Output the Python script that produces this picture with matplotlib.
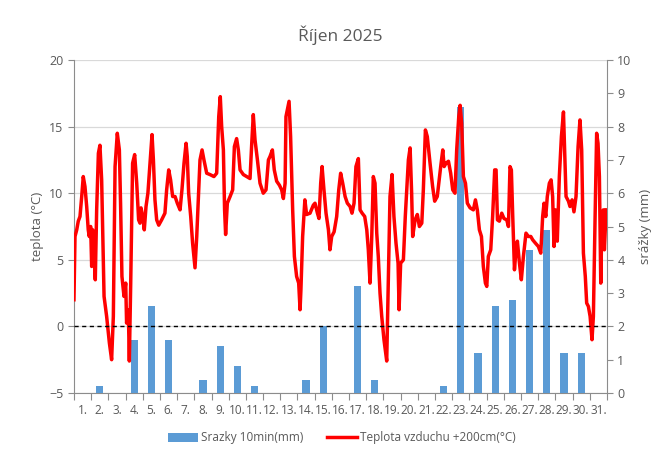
import numpy as np
import matplotlib
matplotlib.use("Agg")
import matplotlib.pyplot as plt

plt.rcParams["font.family"] = ["Open Sans", "DejaVu Sans"]

# denni srazky (mm), den 1..31
dny = [f"{d}." for d in range(1, 32)]
srazky = [0, 0.2, 0, 1.6, 2.6, 1.6, 0, 0.4, 1.4, 0.8,
          0.2, 0, 0, 0.4, 2.0, 0, 3.2, 0.4, 0, 0,
          0, 0.2, 8.6, 1.2, 2.6, 2.8, 4.3, 4.9, 1.2, 1.2, 0]

# teplota: cas ve dnech od zacatku mesice, hodnota (°C)
cas = [0.00, 0.06, 0.16, 0.25, 0.35, 0.45, 0.54, 0.64, 0.74, 0.83,
       0.89, 0.97, 1.03, 1.09, 1.16, 1.24, 1.32, 1.42, 1.51, 1.61,
       1.75, 1.90, 2.06, 2.19, 2.29, 2.39, 2.52, 2.64, 2.71, 2.79,
       2.91, 3.01, 3.06, 3.16, 3.22, 3.30, 3.41, 3.53, 3.65, 3.76,
       3.84, 3.90, 4.00, 4.09, 4.19, 4.30, 4.42, 4.54, 4.62, 4.71,
       4.81, 4.93, 5.10, 5.29, 5.39, 5.51, 5.62, 5.74, 5.88, 6.01,
       6.17, 6.28, 6.40, 6.52, 6.59, 6.67, 6.79, 6.90, 7.04, 7.14,
       7.23, 7.33, 7.45, 7.56, 7.72, 7.91, 8.14, 8.30, 8.42, 8.51,
       8.59, 8.69, 8.76, 8.82, 8.92, 9.08, 9.23, 9.33, 9.46, 9.56,
       9.66, 9.85, 10.04, 10.24, 10.34, 10.43, 10.53, 10.67, 10.82, 11.01,
       11.17, 11.31, 11.40, 11.54, 11.65, 11.79, 11.95, 12.08, 12.18, 12.28,
       12.33, 12.43, 12.51, 12.60, 12.72, 12.82, 12.95, 13.07, 13.15, 13.20,
       13.30, 13.43, 13.53, 13.73, 13.92, 14.02, 14.16, 14.25, 14.35, 14.43,
       14.54, 14.66, 14.80, 14.89, 14.99, 15.13, 15.28, 15.40, 15.51, 15.63,
       15.77, 15.90, 16.06, 16.17, 16.29, 16.40, 16.54, 16.64, 16.76, 16.91,
       17.03, 17.12, 17.22, 17.32, 17.41, 17.51, 17.61, 17.70, 17.80, 17.90,
       18.03, 18.19, 18.28, 18.38, 18.50, 18.61, 18.73, 18.85, 18.91, 19.00,
       19.16, 19.27, 19.45, 19.55, 19.64, 19.70, 19.84, 19.97, 20.09, 20.23,
       20.32, 20.44, 20.55, 20.71, 20.86, 20.98, 21.13, 21.33, 21.45, 21.53,
       21.64, 21.78, 21.91, 22.03, 22.16, 22.26, 22.38, 22.46, 22.55, 22.65,
       22.77, 22.88, 23.04, 23.23, 23.35, 23.46, 23.58, 23.70, 23.81, 23.93,
       24.01, 24.10, 24.24, 24.35, 24.47, 24.55, 24.63, 24.74, 24.88, 25.01,
       25.17, 25.27, 25.36, 25.44, 25.52, 25.62, 25.71, 25.79, 25.91, 26.02,
       26.14, 26.29, 26.43, 26.57, 26.68, 26.84, 27.01, 27.15, 27.26, 27.34,
       27.44, 27.53, 27.65, 27.75, 27.84, 27.92, 28.00, 28.11, 28.23, 28.35,
       28.47, 28.54, 28.62, 28.76, 28.85, 28.97, 29.08, 29.20, 29.32, 29.43,
       29.53, 29.63, 29.74, 29.82, 29.92, 30.02, 30.13, 30.21, 30.31, 30.40,
       30.48, 30.56, 30.64, 30.71, 30.79, 30.85, 30.95]
teplota = [2.0, 6.75, 7.25, 7.9, 8.25, 9.75, 11.25, 10.5, 9.0, 7.25,
           6.75, 7.5, 4.5, 7.25, 5.75, 3.5, 8.75, 13.0, 13.6, 11.0,
           2.25, 0.75, -1.25, -2.5, 0.75, 12.0, 14.5, 13.25, 9.25, 3.75,
           2.25, 3.25, 0.25, 1.25, -2.6, 3.25, 12.25, 12.9, 10.75, 8.0,
           7.75, 8.9, 8.25, 7.25, 9.0, 10.0, 12.25, 14.4, 12.5, 9.5,
           8.0, 7.6, 8.0, 8.5, 10.25, 11.75, 11.0, 9.75, 9.75, 9.25,
           8.75, 10.25, 12.25, 13.75, 12.75, 10.0, 8.25, 6.25, 4.4, 6.75,
           9.5, 12.5, 13.25, 12.5, 11.5, 11.4, 11.25, 11.5, 15.75, 17.25,
           15.0, 13.25, 8.75, 6.9, 9.25, 9.75, 10.25, 13.5, 14.1, 13.25,
           11.75, 11.4, 11.25, 11.1, 13.75, 15.9, 14.0, 12.5, 10.75, 10.0,
           10.25, 12.5, 12.75, 13.25, 11.75, 10.9, 10.6, 10.25, 9.6, 10.75,
           15.75, 16.4, 16.9, 14.25, 8.75, 5.25, 3.75, 3.25, 1.25, 2.75,
           6.75, 9.5, 8.4, 8.5, 9.1, 9.25, 8.5, 8.1, 10.75, 12.0,
           10.25, 8.5, 7.25, 5.75, 6.75, 7.1, 8.25, 10.25, 11.5, 10.75,
           9.75, 9.25, 9.0, 8.5, 9.25, 12.0, 12.6, 8.75, 8.5, 8.25,
           7.25, 5.75, 3.25, 6.75, 11.25, 10.75, 7.0, 5.25, 2.5, 0.75,
           -1.0, -2.6, 3.25, 9.75, 11.4, 8.25, 6.25, 4.75, 1.25, 4.75,
           5.0, 8.25, 12.5, 13.4, 10.0, 6.75, 8.0, 8.4, 7.5, 7.75,
           10.25, 14.75, 14.25, 12.25, 10.5, 9.4, 9.75, 12.0, 13.25, 12.0,
           12.25, 12.4, 11.5, 10.25, 10.0, 13.25, 15.75, 16.6, 15.25, 11.25,
           10.75, 9.25, 8.9, 8.75, 9.5, 8.75, 7.25, 6.75, 4.5, 3.25,
           3.0, 5.25, 5.75, 8.25, 11.75, 11.75, 8.0, 7.9, 8.5, 8.1,
           8.0, 7.5, 12.0, 11.75, 8.25, 4.25, 5.75, 6.4, 4.75, 3.5,
           5.25, 7.0, 6.75, 6.75, 6.5, 6.25, 6.0, 5.5, 8.25, 9.25,
           8.25, 9.75, 10.75, 11.0, 9.75, 6.0, 8.75, 6.4, 11.25, 14.25,
           16.1, 13.25, 9.75, 9.4, 9.0, 9.5, 8.6, 9.75, 13.5, 15.5,
           13.25, 5.5, 3.75, 1.75, 1.5, 0.75, -1.0, 0.75, 8.25, 14.5,
           13.75, 11.25, 3.25, 8.25, 8.75, 5.75, 8.75]

seda = "#595959"
osa = "#8c8c8c"

fig = plt.figure(figsize=(6.64, 4.54), dpi=100)
ax = fig.add_axes([0.1114, 0.1344, 0.8027, 0.7334])
ax2 = ax.twinx()
ax3 = ax.twinx()

stredy = np.arange(len(srazky)) + 0.5

ax.set_xlim(0, 31)
ax.set_ylim(-5, 20)
ax2.set_ylim(0, 10)
ax3.set_ylim(-5, 20)

ax.yaxis.grid(True, color="#d9d9d9", lw=0.9)
ax.set_axisbelow(True)

bary = ax2.bar(stredy, srazky, width=0.42, color="#5B9BD5", label="Srazky 10min(mm)")
cara, = ax3.plot(cas, teplota, color="#ff0000", lw=2.5, label="Teplota vzduchu +200cm(°C)")
ax3.axhline(0, color="black", lw=1.0, ls=(0, (3, 2.5)))
ax3.axis("off")

# osy
ax.set_yticks(range(-5, 21, 5))
ax2.set_yticks(range(0, 11))
ax.set_xticks(range(32))
ax.set_xticklabels([])
ax.set_xticks(stredy, minor=True)
ax.set_xticklabels(dny, minor=True)
ax.tick_params(axis="x", which="minor", length=0, pad=8, labelsize=8.5, labelcolor=seda)
ax.tick_params(axis="x", which="major", length=5, color=osa)
ax.tick_params(axis="y", length=4, color=osa, labelsize=9, labelcolor=seda)
ax2.tick_params(axis="y", length=4, color=osa, labelsize=9, labelcolor=seda)

for s in ["top", "right"]:
    ax.spines[s].set_visible(False)
for s in ["top", "left", "bottom"]:
    ax2.spines[s].set_visible(False)
ax.spines["left"].set_color(osa)
ax.spines["bottom"].set_color(osa)
ax2.spines["right"].set_color(osa)

ax.set_ylabel("teplota (°C)", color=seda, fontsize=9.5, labelpad=4)
ax2.set_ylabel("srážky (mm)", color=seda, fontsize=9.5, labelpad=5)

ax.set_title("Říjen 2025", fontsize=12.5, color=seda, pad=14)

fig.legend([bary, cara], [bary.get_label(), cara.get_label()],
           loc="center", bbox_to_anchor=(0.515, 1 - 438 / 454), ncol=2,
           frameon=False, fontsize=8.5, labelcolor=seda,
           handlelength=2.5, columnspacing=2.0, handletextpad=0.3)

fig.savefig("out.png", dpi=100)
